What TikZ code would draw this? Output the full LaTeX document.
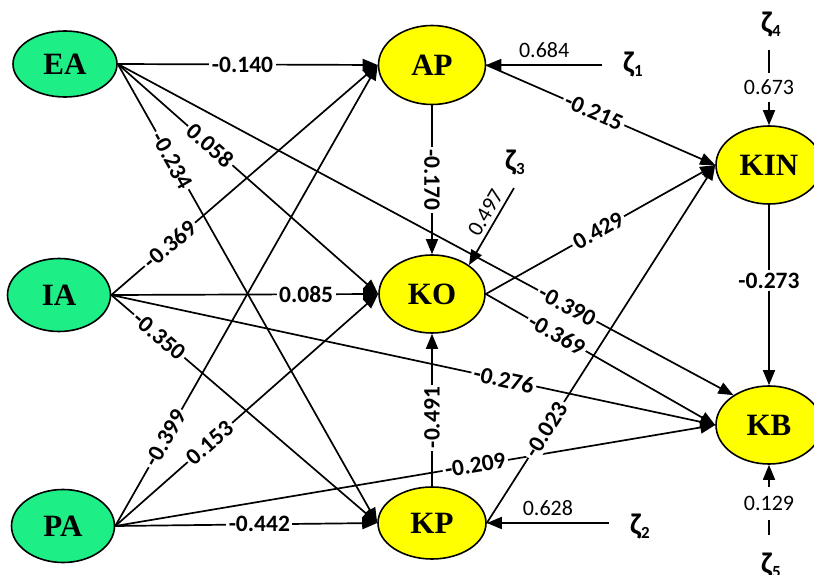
\documentclass[tikz,border=0pt]{standalone}
\usepackage{fontspec}
\setmainfont{Carlito}
\newfontfamily\nodefont{Liberation Serif}
\usetikzlibrary{arrows.meta, shapes.geometric}
\definecolor{exogreen}{RGB}{30,238,134}
\definecolor{endoyellow}{RGB}{255,255,0}
\newcommand\zlab[1]{{\bfseries\fontsize{30}{30}\selectfont ζ}\raisebox{-4pt}{\bfseries\fontsize{17}{17}\selectfont #1}}
\begin{document}
\begin{tikzpicture}[x=1pt,y=-1pt,
  lat/.style={ellipse, draw, line width=1.6pt, inner sep=0pt, font=\nodefont\bfseries\fontsize{31}{31}\selectfont},
  exo/.style={lat, fill=exogreen},
  endo/.style={lat, fill=endoyellow},
  arr/.style={line width=1.7pt, -{Triangle[length=15pt,width=12pt]}},
  coef/.style={fill=white, inner sep=2.5pt, font=\bfseries\fontsize{23.5}{23.5}\selectfont},
  resl/.style={inner sep=2pt, font=\fontsize{22}{22}\selectfont},
]
\useasboundingbox[fill=white] (0,0) rectangle (814,575);

% latent variables
\node[exo, minimum width=104pt, minimum height=66pt] (EA) at (65,64) {EA};
\node[exo, minimum width=103pt, minimum height=73pt] (IA) at (59,295) {IA};
\node[exo, minimum width=103pt, minimum height=73pt] (PA) at (63,526) {PA};
\node[endo, minimum width=107pt, minimum height=79pt] (AP) at (432,65) {AP};
\node[endo, minimum width=106pt, minimum height=78pt] (KO) at (432,294) {KO};
\node[endo, minimum width=108pt, minimum height=72pt] (KP) at (432,523) {KP};
\node[endo, minimum width=106pt, minimum height=78pt] (KIN) at (769,165) {KIN};
\node[endo, minimum width=106pt, minimum height=78pt] (KB) at (769,425) {KB};

% disturbances
\node (z1) at (633,65) {\zlab{1}};
\node (z2) at (640,527) {\zlab{2}};
\node (z3) at (515,163) {\zlab{3}};
\node (z4) at (771,25) {\zlab{4}};
\node (z5) at (771,566) {\zlab{5}};
\coordinate (z1s) at (602,65);
\coordinate (z2s) at (609,523);
\coordinate (z3s) at (514,188);
\coordinate (z4s) at (769,50);
\coordinate (z5s) at (769,535);

% structural paths
\draw[arr] (EA.east) -- (AP.west) node[coef, pos=0.48] {-0.140};
\draw[arr] (EA.east) -- (KB.140) node[coef, pos=0.73, sloped] {-0.390};
\draw[arr] (EA.east) -- (KO.west) node[coef, pos=0.355, sloped] {0.058};
\draw[arr] (EA.east) -- (KP.west) node[coef, pos=0.21, sloped] {-0.234};
\draw[arr] (IA.east) -- (AP.west) node[coef, pos=0.22, sloped] {-0.369};
\draw[arr] (IA.east) -- (KB.west) node[coef, pos=0.65, sloped] {-0.276};
\draw[arr] (IA.east) -- (KO.west) node[coef, pos=0.73] {0.085};
\draw[arr] (IA.east) -- (KP.west) node[coef, pos=0.18, sloped] {-0.350};
\draw[arr] (PA.east) -- (AP.west) node[coef, pos=0.19, sloped] {-0.399};
\draw[arr] (PA.east) -- (KO.west) node[coef, pos=0.36, sloped] {0.153};
\draw[arr] (PA.east) -- (KB.west) node[coef, pos=0.6, sloped] {-0.209};
\draw[arr] (PA.east) -- (KP.west) node[coef, pos=0.55] {-0.442};
\draw[arr] (KP.east) -- (KIN.west) node[coef, pos=0.26, sloped] {-0.023};
\draw[arr] (AP.south) -- (KO.north) node[coef, pos=0.5, rotate=-90] {-0.170};
\draw[arr] (KP.north) -- (KO.south) node[coef, pos=0.45, rotate=90] {-0.491};
\draw[arr] (AP.east) -- (KIN.west) node[coef, pos=0.47, sloped] {-0.215};
\draw[arr] (KO.east) -- (KIN.west) node[coef, pos=0.49, sloped] {0.429};
\draw[arr] (KO.east) -- (KB.west) node[coef, pos=0.31, sloped] {-0.369};
\draw[arr] (KIN.south) -- (KB.north) node[coef, pos=0.42] {-0.273};

% disturbance paths
\draw[arr] (z1s) -- (AP.east) node[resl, midway, above=4pt] {0.684};
\draw[arr] (z2s) -- (KP.east) node[resl, midway, above=4pt] {0.628};
\draw[arr] (z3s) -- (KO.38) node[resl, pos=0.4, sloped, above=2pt] {0.497};
\draw[arr] (z4s) -- (KIN.north) node[resl, pos=0.5, fill=white, inner ysep=7pt] {0.673};
\draw[arr] (z5s) -- (KB.south) node[resl, pos=0.45, fill=white, inner ysep=9pt] {0.129};
\end{tikzpicture}
\end{document}
